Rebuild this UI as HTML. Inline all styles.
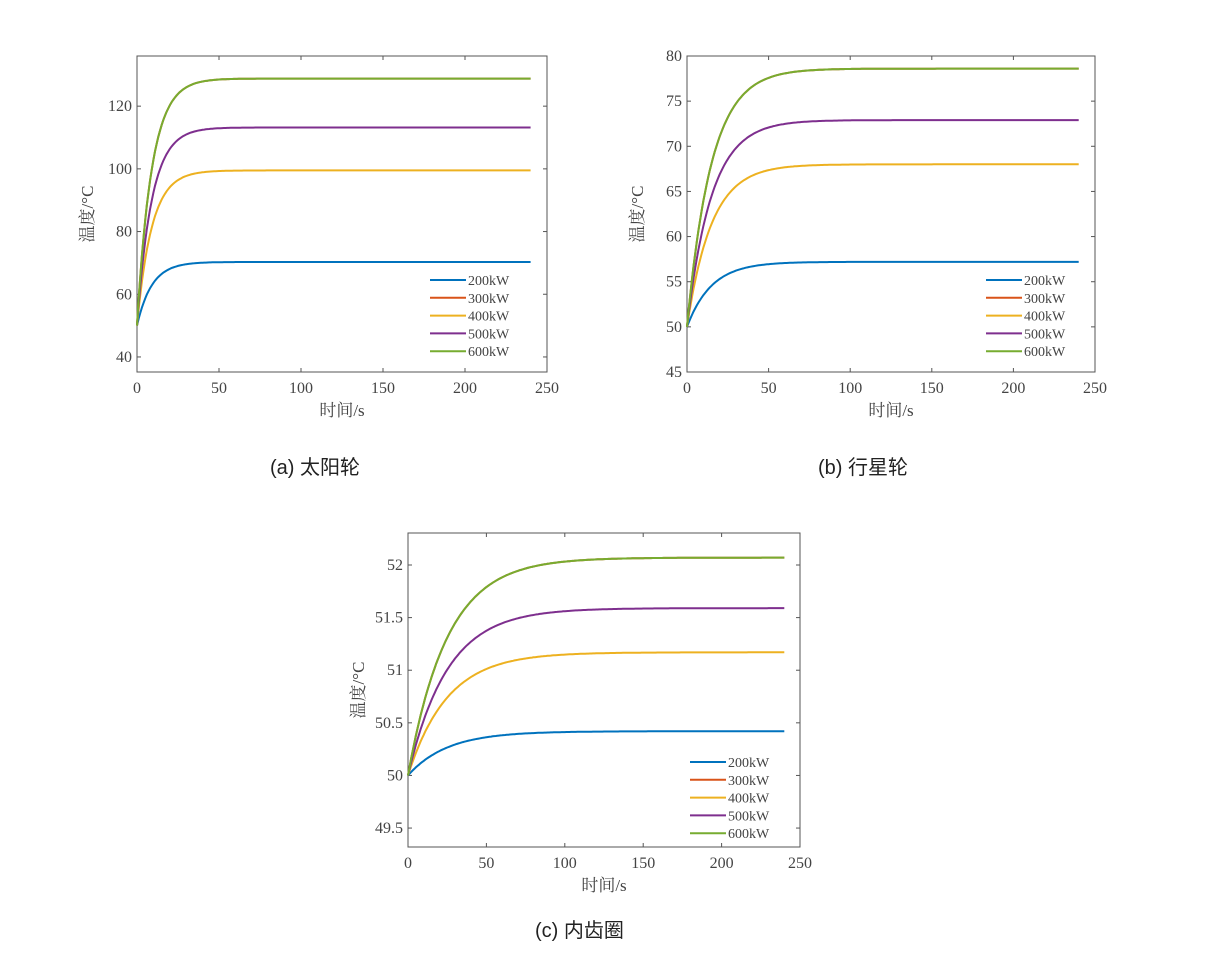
<!DOCTYPE html>
<html><head><meta charset="utf-8"><style>
body{margin:0;background:#fff;width:1219px;height:950px;overflow:hidden}
svg text{font-family:"Liberation Serif","Noto Serif CJK SC",serif;fill:#444}
.cap{font-family:"Liberation Sans","Noto Sans CJK SC",sans-serif;fill:#222;font-size:20px}
</style></head><body>
<svg id="s" width="1219" height="950" xmlns="http://www.w3.org/2000/svg"></svg>
<script>
const s=document.getElementById('s');let h='';
const cols=['#0072BD','#D95319','#EDB120','#7E2F8E','#77AC30'];
const names=['200kW','300kW','400kW','500kW','600kW'];
function chart(o){
 const {L,R,T,B,y0,y1,ticks,fmt,finals,tau,leg}=o;
 const X=v=>L+(R-L)*v/250, Y=v=>B-(B-T)*(v-y0)/(y1-y0);
 h+=`<rect x="${L}" y="${T}" width="${R-L}" height="${B-T}" fill="none" stroke="#555" stroke-width="1"/>`;
 for(let t=0;t<=250;t+=50){h+=`<line x1="${X(t)}" y1="${B}" x2="${X(t)}" y2="${B-4}" stroke="#555"/><line x1="${X(t)}" y1="${T}" x2="${X(t)}" y2="${T+4}" stroke="#555"/><text x="${X(t)}" y="${B+21}" font-size="16" text-anchor="middle">${t}</text>`;}
 ticks.forEach(v=>{h+=`<line x1="${L}" y1="${Y(v)}" x2="${L+4}" y2="${Y(v)}" stroke="#555"/><line x1="${R}" y1="${Y(v)}" x2="${R-4}" y2="${Y(v)}" stroke="#555"/><text x="${L-5}" y="${Y(v)+5}" font-size="16" text-anchor="end">${fmt(v)}</text>`;});
 h+=`<text x="${(L+R)/2}" y="${B+44}" font-size="17" text-anchor="middle">时间/s</text>`;
 h+=`<text transform="translate(${L-44},${(T+B)/2}) rotate(-90)" font-size="17" text-anchor="middle">温度/°C</text>`;
 finals.forEach((f,i)=>{let d='';for(let t=0;t<=240;t+=1){const v=50+(f-50)*(1-Math.exp(-t/tau));d+=(t?'L':'M')+X(t).toFixed(1)+','+Y(v).toFixed(1);}
  h+=`<path d="${d}" fill="none" stroke="${cols[i]}" stroke-width="2"/>`;});
 names.forEach((n,i)=>{const y=leg[1]+i*17.8;h+=`<line x1="${leg[0]}" y1="${y}" x2="${leg[0]+36}" y2="${y}" stroke="${cols[i]}" stroke-width="2"/><text x="${leg[0]+38}" y="${y+5}" font-size="14">${n}</text>`;});
}
chart({L:137,R:547,T:56,B:372,y0:35.2,y1:136,ticks:[40,60,80,100,120],fmt:v=>v,finals:[70.3,128.8,99.5,113.2,128.8],tau:9,leg:[430,280]});
chart({L:687,R:1095,T:56,B:372,y0:45,y1:80,ticks:[45,50,55,60,65,70,75,80],fmt:v=>v,finals:[57.2,78.6,68.0,72.9,78.6],tau:15,leg:[986,280]});
chart({L:408,R:800,T:533,B:847,y0:49.32,y1:52.304,ticks:[49.5,50,50.5,51,51.5,52],fmt:v=>v,finals:[50.42,52.07,51.17,51.59,52.07],tau:25,leg:[690,762]});
h+=`<text class="cap" x="270" y="474">(a)  太阳轮</text><text class="cap" x="818" y="474">(b)  行星轮</text><text class="cap" x="535" y="937">(c)  内齿圈</text>`;
s.innerHTML=h;
</script></body></html>
